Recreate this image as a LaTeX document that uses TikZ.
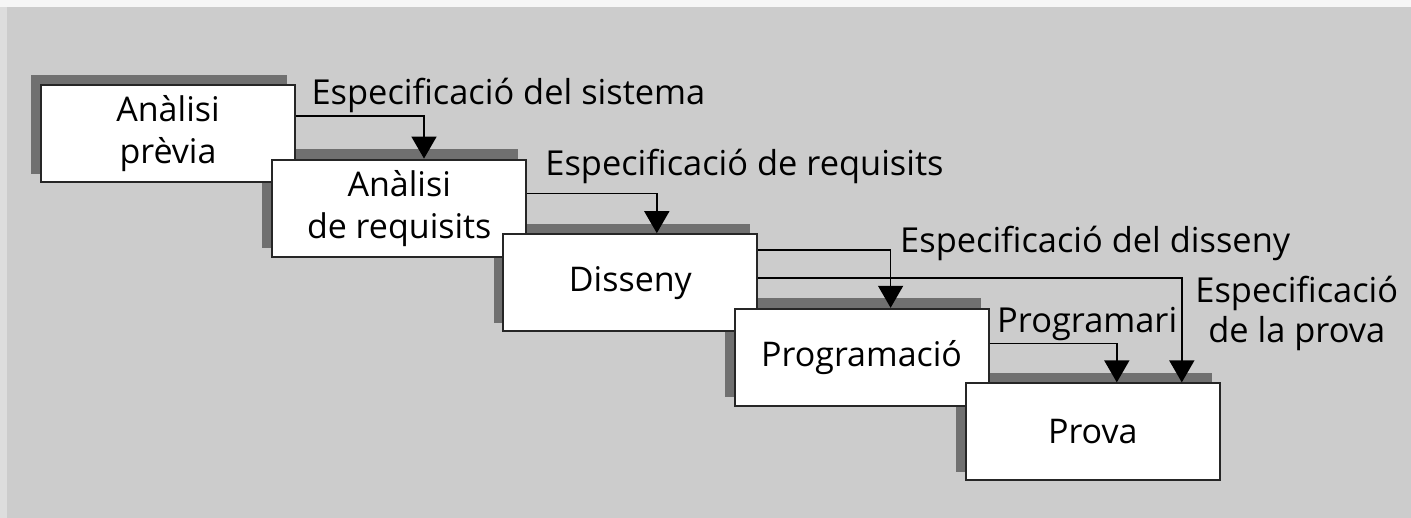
\documentclass[tikz,border=0pt]{standalone}
\usepackage{fontspec}
\setmainfont{Open Sans}
\usepackage{tikz}
\usetikzlibrary{arrows.meta,positioning,calc,backgrounds}

\definecolor{paper}{RGB}{204,204,204}
\definecolor{rimtop}{RGB}{246,246,246}
\definecolor{rimleft}{RGB}{221,221,221}
\definecolor{shadowgray}{RGB}{112,112,112}

\begin{document}
\begin{tikzpicture}[
    >=Latex,
    node distance = -12.2pt and -12.4pt,
    stage/.style={rectangle, draw=black!85, line width=1pt, fill=white,
                  align=center, inner sep=2pt,
                  minimum width=127pt, minimum height=48.5pt,
                  font=\fontsize{17pt}{21pt}\selectfont},
    doc/.style  ={align=center, inner sep=0pt,
                  font=\fontsize{17.2pt}{20pt}\selectfont},
    flow/.style ={-{Triangle[width=12.5pt,length=11pt]}, line width=0.8pt}
]
\useasboundingbox (0,0) rectangle (705.5pt,-259pt);

%–––– STAGES –––––––––––––––––––––––––––––––––––––––
\node (previa)      [stage, anchor=north west] at (20pt,-42pt) {Anàlisi\\prèvia};
\node (requisits)   [stage, below right=of previa]      {Anàlisi\\de requisits};
\node (disseny)     [stage, below right=of requisits]   {Disseny};
\node (programacio) [stage, below right=of disseny]     {Programació};
\node (prova)       [stage, below right=of programacio] {Prova};

%–––– DOCUMENTS PASSED DOWN ––––––––––––––––––––––––
\draw[flow] ([yshift=-16pt]previa.north east)    -| ([xshift=76.4pt]requisits.north west);
\draw[flow] ([yshift=-17.5pt]requisits.north east) -| ([xshift=77.2pt]disseny.north west);
\draw[flow] ([yshift=-8.3pt]disseny.north east)  -| ([xshift=78.5pt]programacio.north west);
\draw[flow] ([yshift=-22.3pt]disseny.north east) -| ([xshift=108.5pt]prova.north west);
\draw[flow] ([yshift=-17.9pt]programacio.north east) -| ([xshift=76pt]prova.north west);

\node (sistema) [doc, anchor=base west] at ($(previa.north east)+(7.6pt,-10.4pt)$)
  {Especificació del sistema};
\node (requ)    [doc, anchor=base west] at ($(requisits.north east)+(8.9pt,-8.6pt)$)
  {Especificació de requisits};
\node (diss)    [doc, anchor=base west] at ($(disseny.north east)+(70.7pt,-9.8pt)$)
  {Especificació del disseny};
\node (progr)   [doc, anchor=base west] at ($(programacio.north east)+(3.6pt,-12.4pt)$)
  {Programari};
\node (espprova) [doc, anchor=base] at ($(prova.north east)+(38pt,20pt)$)
  {Especificació\\de la prova};

% BACKGROUND AND SHADOWS
\begin{scope}[on background layer]
  \fill[paper]    (0,0) rectangle (705.5pt,-259pt);
  \fill[rimleft]  (0,0) rectangle (3.5pt,-259pt);
  \fill[rimtop]   (0,0) rectangle (705.5pt,-3.5pt);
  \foreach \n in {previa,requisits,disseny,programacio,prova}
    \fill[shadowgray] ([shift={(-4.4pt,4.7pt)}]\n.south west)
          rectangle ([shift={(-4.4pt,4.7pt)}]\n.north east);
\end{scope}
\end{tikzpicture}
\end{document}
